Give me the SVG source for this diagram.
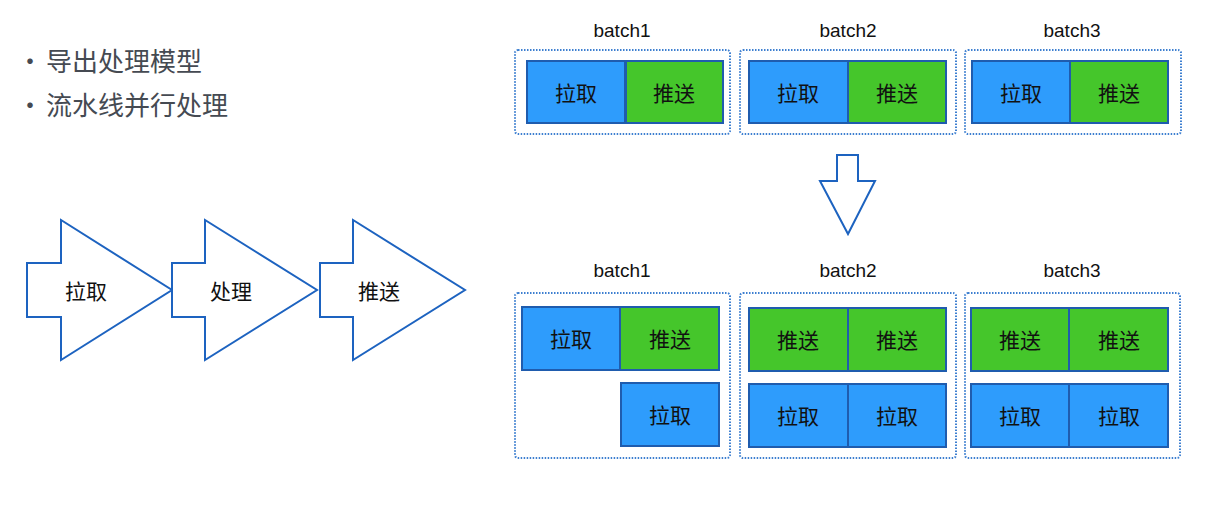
<svg xmlns="http://www.w3.org/2000/svg" width="1210" height="517" viewBox="0 0 1210 517">
<style>
.cont{fill:#fff;stroke:#3d7fd0;stroke-width:2;stroke-dasharray:1.5 1.5}
.pull{fill:#2e9cfc;stroke:#1f5cae;stroke-width:2}
.push{fill:#45c62b;stroke:#1f5cae;stroke-width:2}
.arr{fill:#fff;stroke:#1d63c0;stroke-width:2;stroke-linejoin:miter}
.t{font-family:"Noto Sans CJK SC","Liberation Sans",sans-serif;font-size:21px;fill:#111;text-anchor:middle;dominant-baseline:central}
.b{font-family:"Liberation Sans",Arial,sans-serif;font-size:19px;fill:#111;text-anchor:middle}
.bul{font-family:"Noto Sans CJK SC","Liberation Sans",sans-serif;font-size:26px;fill:#454a52}
</style>
<rect width="1210" height="517" fill="#fff"/>
<g id="bullets">
<text class="bul" x="17" y="71">·</text>
<text class="bul" x="46" y="71">导出处理模型</text>
<text class="bul" x="17" y="115">·</text>
<text class="bul" x="46" y="115">流水线并行处理</text>
</g>
<g id="pipe-pull"><polygon class="arr" points="27,263 61,263 61,220 172,290 61,360 61,317 27,317"/><text class="t" x="86" y="290">拉取</text></g>
<g id="pipe-process"><polygon class="arr" points="172,263 205,263 205,220 317,290 205,360 205,317 172,317"/><text class="t" x="231" y="290">处理</text></g>
<g id="pipe-push"><polygon class="arr" points="320,263 353,263 353,220 465,290 353,360 353,317 320,317"/><text class="t" x="379" y="290">推送</text></g>

<g id="top-batch1">
<text class="b" x="622" y="37">batch1</text>
<rect class="cont" x="515" y="50" width="215" height="84" rx="3"/>
<rect class="pull" x="527" y="61" width="98" height="62"/><text class="t" x="576" y="92">拉取</text>
<rect class="push" x="626" y="61" width="97" height="62"/><text class="t" x="674" y="92">推送</text>
</g>
<g id="top-batch2">
<text class="b" x="848" y="37">batch2</text>
<rect class="cont" x="740" y="50" width="216" height="84" rx="3"/>
<rect class="pull" x="749" y="61" width="99" height="62"/><text class="t" x="798" y="92">拉取</text>
<rect class="push" x="848" y="61" width="98" height="62"/><text class="t" x="897" y="92">推送</text>
</g>
<g id="top-batch3">
<text class="b" x="1072" y="37">batch3</text>
<rect class="cont" x="965" y="50" width="216" height="84" rx="3"/>
<rect class="pull" x="972" y="61" width="98" height="62"/><text class="t" x="1021" y="92">拉取</text>
<rect class="push" x="1070" y="61" width="98" height="62"/><text class="t" x="1119" y="92">推送</text>
</g>

<g id="connectors">
<polygon class="arr" points="837,155 858,155 858,181 875,181 848,234 820,181 837,181"/>
</g>

<g id="bottom-batch1">
<text class="b" x="622" y="277">batch1</text>
<rect class="cont" x="515" y="293" width="215" height="165" rx="3"/>
<rect class="pull" x="522" y="307" width="98" height="63"/><text class="t" x="571" y="338">拉取</text>
<rect class="push" x="620" y="307" width="99" height="63"/><text class="t" x="670" y="338">推送</text>
<rect class="pull" x="621" y="383" width="98" height="63"/><text class="t" x="670" y="414">拉取</text>
</g>
<g id="bottom-batch2">
<text class="b" x="848" y="277">batch2</text>
<rect class="cont" x="740" y="293" width="216" height="165" rx="3"/>
<rect class="push" x="749" y="308" width="99" height="63"/><text class="t" x="798" y="339">推送</text>
<rect class="push" x="848" y="308" width="98" height="63"/><text class="t" x="897" y="339">推送</text>
<rect class="pull" x="749" y="384" width="99" height="63"/><text class="t" x="798" y="415">拉取</text>
<rect class="pull" x="848" y="384" width="98" height="63"/><text class="t" x="897" y="415">拉取</text>
</g>
<g id="bottom-batch3">
<text class="b" x="1072" y="277">batch3</text>
<rect class="cont" x="965" y="293" width="215" height="165" rx="3"/>
<rect class="push" x="971" y="308" width="98" height="63"/><text class="t" x="1020" y="339">推送</text>
<rect class="push" x="1069" y="308" width="99" height="63"/><text class="t" x="1119" y="339">推送</text>
<rect class="pull" x="971" y="384" width="98" height="63"/><text class="t" x="1020" y="415">拉取</text>
<rect class="pull" x="1069" y="384" width="99" height="63"/><text class="t" x="1119" y="415">拉取</text>
</g>
</svg>
